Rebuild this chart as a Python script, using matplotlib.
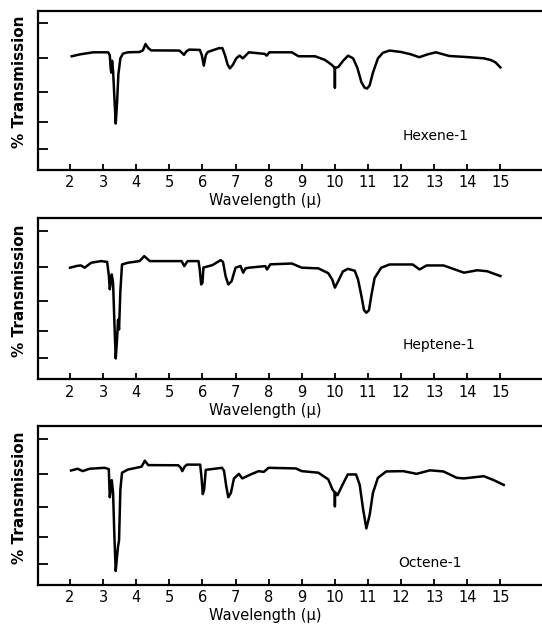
import matplotlib.pyplot as plt

# wavelength (micron) / transmission readings for each spectrum
hex_wl = [2.05, 2.3, 2.7, 3.15, 3.2, 3.23, 3.25, 3.27, 3.3, 3.34, 3.38, 3.42, 3.46, 3.52, 3.6, 3.75,
          4.1, 4.2, 4.28, 4.36, 4.45, 5.3, 5.38, 5.44, 5.52, 5.6, 5.92, 5.98, 6.04, 6.1, 6.16, 6.5,
          6.6, 6.68, 6.76, 6.83, 6.92, 7.02, 7.12, 7.22, 7.4, 7.88, 7.94, 8.02, 8.7, 8.9, 9.4,
          9.7, 9.9, 10.0, 10.0, 10.0, 10.1, 10.25, 10.4, 10.55, 10.68, 10.8, 10.9, 10.97, 11.05,
          11.15, 11.3, 11.45, 11.65, 12.0, 12.3, 12.55, 12.8, 13.05, 13.45, 14.0, 14.5, 14.7,
          14.85, 15.0]
hex_tr = [71.3, 72.5, 73.8, 73.8, 72.0, 63.0, 61.0, 68.5, 62.0, 45.0, 29.0, 42.0, 60.0, 70.0, 73.0, 73.8,
          74.0, 75.0, 79.0, 76.5, 75.0, 74.9, 73.5, 72.2, 74.5, 75.5, 75.3, 72.0, 65.4, 72.0, 74.0, 76.4,
          76.5, 72.0, 66.0, 63.7, 66.0, 70.0, 71.7, 70.0, 73.8, 72.8, 71.7, 73.8, 73.8, 71.3, 71.3,
          69.0, 66.0, 64.0, 51.7, 64.0, 64.5, 68.5, 71.7, 70.0, 64.0, 55.0, 51.5, 51.0, 53.0,
          61.0, 70.0, 73.5, 74.9, 74.0, 72.5, 70.7, 72.5, 73.8, 71.5, 70.8, 70.0, 69.0,
          67.5, 64.3]

hep_wl = [2.0, 2.2, 2.33, 2.44, 2.64, 2.94, 3.12, 3.17, 3.2, 3.23, 3.26, 3.3, 3.34, 3.38, 3.42, 3.45,
          3.48, 3.52, 3.57, 3.75, 4.1, 4.24, 4.41, 5.37, 5.45, 5.55, 5.88, 5.92, 5.96, 6.0, 6.03,
          6.3, 6.55, 6.62, 6.7, 6.78, 6.88, 6.95, 7.0, 7.15, 7.23, 7.3, 7.4, 7.9, 7.95, 8.05, 8.7,
          9.0, 9.5, 9.8, 9.92, 10.0, 10.1, 10.24, 10.39, 10.6, 10.7, 10.8, 10.88, 10.95, 11.03,
          11.1, 11.2, 11.4, 11.65, 12.35, 12.56, 12.77, 13.28, 13.6, 13.9, 14.3, 14.6, 15.0]
hep_tr = [69.4, 70.5, 70.8, 69.4, 72.5, 73.5, 73.0, 65.0, 56.0, 60.0, 65.2, 60.0, 35.0, 13.0, 25.0, 37.0,
          31.0, 55.0, 71.4, 72.5, 73.5, 76.6, 73.5, 73.5, 70.4, 73.5, 73.5, 68.0, 59.0, 60.0, 69.5,
          71.0, 74.1, 73.0, 64.0, 59.0, 61.0, 66.0, 69.4, 70.5, 66.3, 69.0, 69.4, 70.4, 68.3, 71.5, 72.0,
          69.4, 69.0, 66.0, 62.0, 57.0, 61.0, 67.0, 68.7, 67.5, 62.0, 52.0, 43.0, 41.4, 43.0,
          52.0, 63.0, 69.4, 71.4, 71.4, 68.3, 70.8, 70.8, 68.5, 66.3, 67.8, 67.2, 64.2]

oct_wl = [2.03, 2.23, 2.38, 2.59, 3.04, 3.17, 3.2, 3.23, 3.26, 3.3, 3.34, 3.38, 3.42, 3.45, 3.48,
          3.52, 3.57, 3.75, 4.16, 4.26, 4.36, 5.27, 5.34, 5.39, 5.46, 5.53, 5.93, 5.97, 6.01, 6.05,
          6.1, 6.59, 6.65, 6.72, 6.78, 6.86, 6.95, 7.1, 7.2, 7.5, 7.7, 7.85, 8.0, 8.82, 9.0, 9.5,
          9.8, 9.93, 9.99, 10.0, 10.01, 10.08, 10.24, 10.39, 10.64, 10.75, 10.85, 10.95, 11.05,
          11.15, 11.3, 11.55, 12.06, 12.47, 12.87, 13.28, 13.68, 13.89, 14.5, 14.8, 15.1]
oct_tr = [72.1, 73.2, 71.7, 73.2, 73.8, 73.0, 55.2, 60.0, 66.0, 58.0, 30.0, 8.7, 18.0, 24.2, 28.0,
          60.0, 70.7, 72.7, 74.5, 78.3, 75.5, 75.4, 74.0, 71.7, 74.5, 75.8, 75.8, 68.0, 57.2, 60.0,
          72.5, 73.8, 72.0, 62.0, 55.2, 58.0, 67.0, 70.0, 67.1, 70.0, 71.7, 71.2, 73.8, 73.4, 71.7, 70.7,
          66.5, 60.0, 58.3, 49.4, 58.3, 56.5, 63.5, 69.6, 69.6, 63.0, 48.0, 35.5, 44.0,
          58.0, 67.5, 71.5, 71.7, 70.0, 72.2, 71.5, 67.5, 67.1, 68.5, 66.0, 63.0]

names = ["Hexene-1", "Heptene-1", "Octene-1"]
name_pos = [(12.05, 21.0), (12.05, 21.5), (11.9, 13.8)]
x_ticks = list(range(2, 16))
y_ticks = [13, 30, 49, 70, 92]

spectra = [(hex_wl, hex_tr), (hep_wl, hep_tr), (oct_wl, oct_tr)]
# axes boxes in figure fractions (left, bottom, width, height)
boxes = [(0.070, 0.729, 0.929, 0.254),
         (0.070, 0.394, 0.929, 0.257),
         (0.070, 0.066, 0.929, 0.253)]

fig = plt.figure(figsize=(5.42, 6.26), dpi=100)
for (wl, tr), box, name, pos in zip(spectra, boxes, names, name_pos):
    ax = fig.add_axes(box)
    ax.plot(wl, tr, color='black', lw=1.8, solid_joinstyle='round')
    ax.set_xlim(1.03, 16.24)
    ax.set_ylim(0, 100)
    ax.set_xticks(x_ticks)
    ax.set_xticklabels([str(t) for t in x_ticks], fontsize=10.5)
    ax.set_yticks(y_ticks)
    ax.set_yticklabels([])
    ax.tick_params(axis='x', direction='in', length=4, width=1.3, pad=4)
    ax.tick_params(axis='y', direction='in', length=7, width=1.3)
    for side in ['left', 'bottom', 'top']:
        ax.spines[side].set_linewidth(1.6)
    ax.spines['right'].set_visible(False)
    ax.set_xlabel('Wavelength (\u03bc)', fontsize=10.5)
    ax.xaxis.set_label_coords(0.452, -0.145)
    ax.set_ylabel('% Transmission', fontsize=11, fontweight='bold')
    ax.yaxis.set_label_coords(-0.022, 0.55)
    ax.text(pos[0], pos[1], name, fontsize=10, va='center')

fig.savefig('out.png', dpi=100)
